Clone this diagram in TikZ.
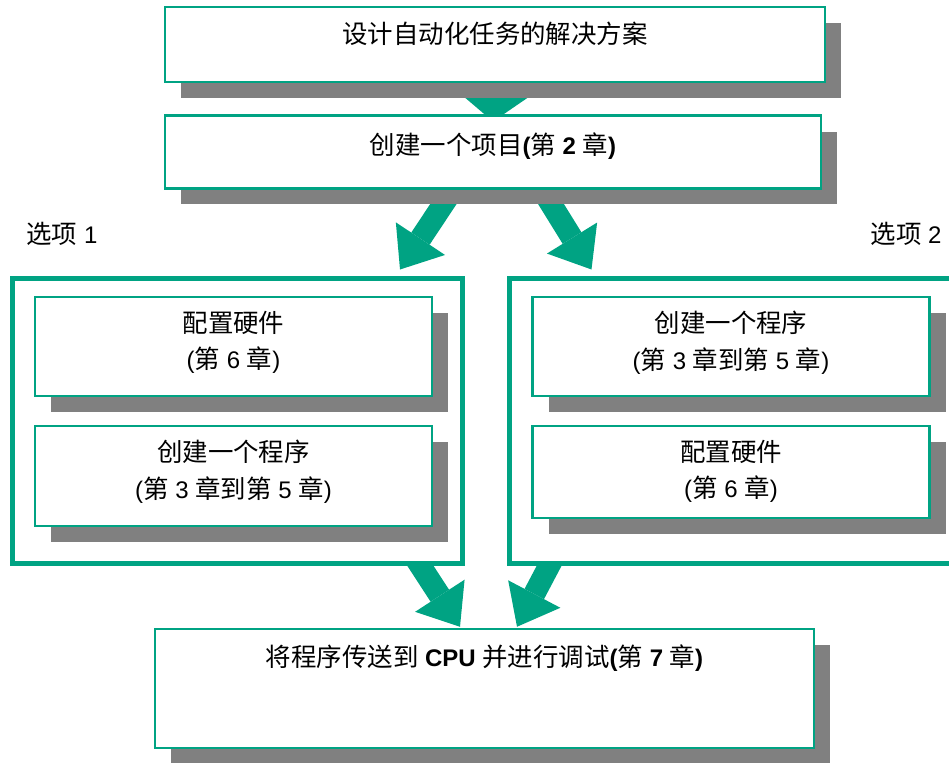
\documentclass[tikz,border=0pt]{standalone}
\usepackage{fontspec}
\setmainfont{Liberation Sans}
\newfontfamily\cjk[Scale=1.06]{Noto Sans CJK SC}
\newcommand{\zh}[1]{{\cjk #1}}
\usetikzlibrary{arrows.meta, calc, shadows}

\definecolor{stepgreen}{RGB}{0,163,131}
\definecolor{shadegray}{RGB}{128,128,128}

\pgfdeclarelayer{background}
\pgfsetlayers{background,main}

\begin{document}
\begin{tikzpicture}[
    x=1pt, y=-1pt,
    font=\fontsize{24}{36.5}\selectfont,
    stepbox/.style={draw=stepgreen, line width=2.5pt, fill=white, inner sep=0pt,
        drop shadow={shadow xshift=16pt, shadow yshift=-16pt, fill=shadegray, opacity=1}},
    optframe/.style={draw=stepgreen, line width=5pt, fill=white, inner sep=0pt},
    steptext/.style={align=center, inner sep=0pt},
    bigarrow/.style={stepgreen, line width=22pt,
        -{Triangle[length=37pt, width=59pt, line width=0pt]}}
]
    \useasboundingbox (0,0) rectangle (949,762);

    % Top two steps
    \node[stepbox, minimum width=660pt, minimum height=75pt] (design) at (495,44.5) {};
    \node[steptext] (design-text) at (495,34) {\zh{设计自动化任务的解决方案}};

    \node[stepbox, minimum width=656pt, minimum height=72.5pt] (project) at (493,152) {};
    \node[steptext] (project-text) at (493,146)
        {\zh{创建一个项目}\textbf{(}\zh{第} \textbf{2} \zh{章}\textbf{)}};

    % Option labels
    \node[steptext] (opt1-label) at (62,234) {\zh{选项} 1};
    \node[steptext] (opt2-label) at (906,234) {\zh{选项} 2};

    % Option 1 frame
    \node[optframe, minimum width=450pt, minimum height=284.5pt] (opt1) at (237.5,420.75) {};
    \node[stepbox, minimum width=397pt, minimum height=99pt] (hw1) at (233.5,346.5) {};
    \node[steptext] (hw1-text) at (233.5,342.5) {\zh{配置硬件}\\(\zh{第} 6 \zh{章})};
    \node[stepbox, minimum width=397pt, minimum height=100pt] (prog1) at (233.5,476) {};
    \node[steptext] (prog1-text) at (233.5,471.5)
        {\zh{创建一个程序}\\(\zh{第} 3 \zh{章到第} 5 \zh{章})};

    % Option 2 frame (runs past the right edge)
    \node[optframe, minimum width=500pt, minimum height=284.5pt] (opt2) at (759.5,420.75) {};
    \node[stepbox, minimum width=397pt, minimum height=99pt] (prog2) at (731,346.5) {};
    \node[steptext] (prog2-text) at (731,342.5)
        {\zh{创建一个程序}\\(\zh{第} 3 \zh{章到第} 5 \zh{章})};
    \node[stepbox, minimum width=397pt, minimum height=92pt] (hw2) at (731,472) {};
    \node[steptext] (hw2-text) at (731,471.5) {\zh{配置硬件}\\(\zh{第} 6 \zh{章})};

    % Last step
    \node[stepbox, minimum width=659pt, minimum height=119pt] (download) at (484.5,688.5) {};
    \node[steptext] (download-text) at (484.5,658.5)
        {\zh{将程序传送到} \textbf{CPU} \zh{并进行调试}\textbf{(}\zh{第} \textbf{7} \zh{章}\textbf{)}};

    % Big arrows behind the boxes
    \begin{pgfonlayer}{background}
        \draw[bigarrow, -{Triangle[length=26pt, width=68pt, line width=0pt]}]
            (design.south) -- ($(project.north)+(0,7)$);
        \draw[bigarrow] ($(project.south)+(-40,0)$) -- ($(opt1.north)+(162.5,-6.5)$);
        \draw[bigarrow] ($(project.south)+(49,0)$) -- ($(opt2.north west)+(84.5,-6.5)$);
        \draw[bigarrow] ($(opt1.south)+(177.5,-8)$) -- ($(download.north)+(-24.5,-1)$);
        \draw[bigarrow] ($(opt2.south west)+(46.5,-8)$) -- ($(download.north)+(32.5,-1)$);
    \end{pgfonlayer}
\end{tikzpicture}
\end{document}
